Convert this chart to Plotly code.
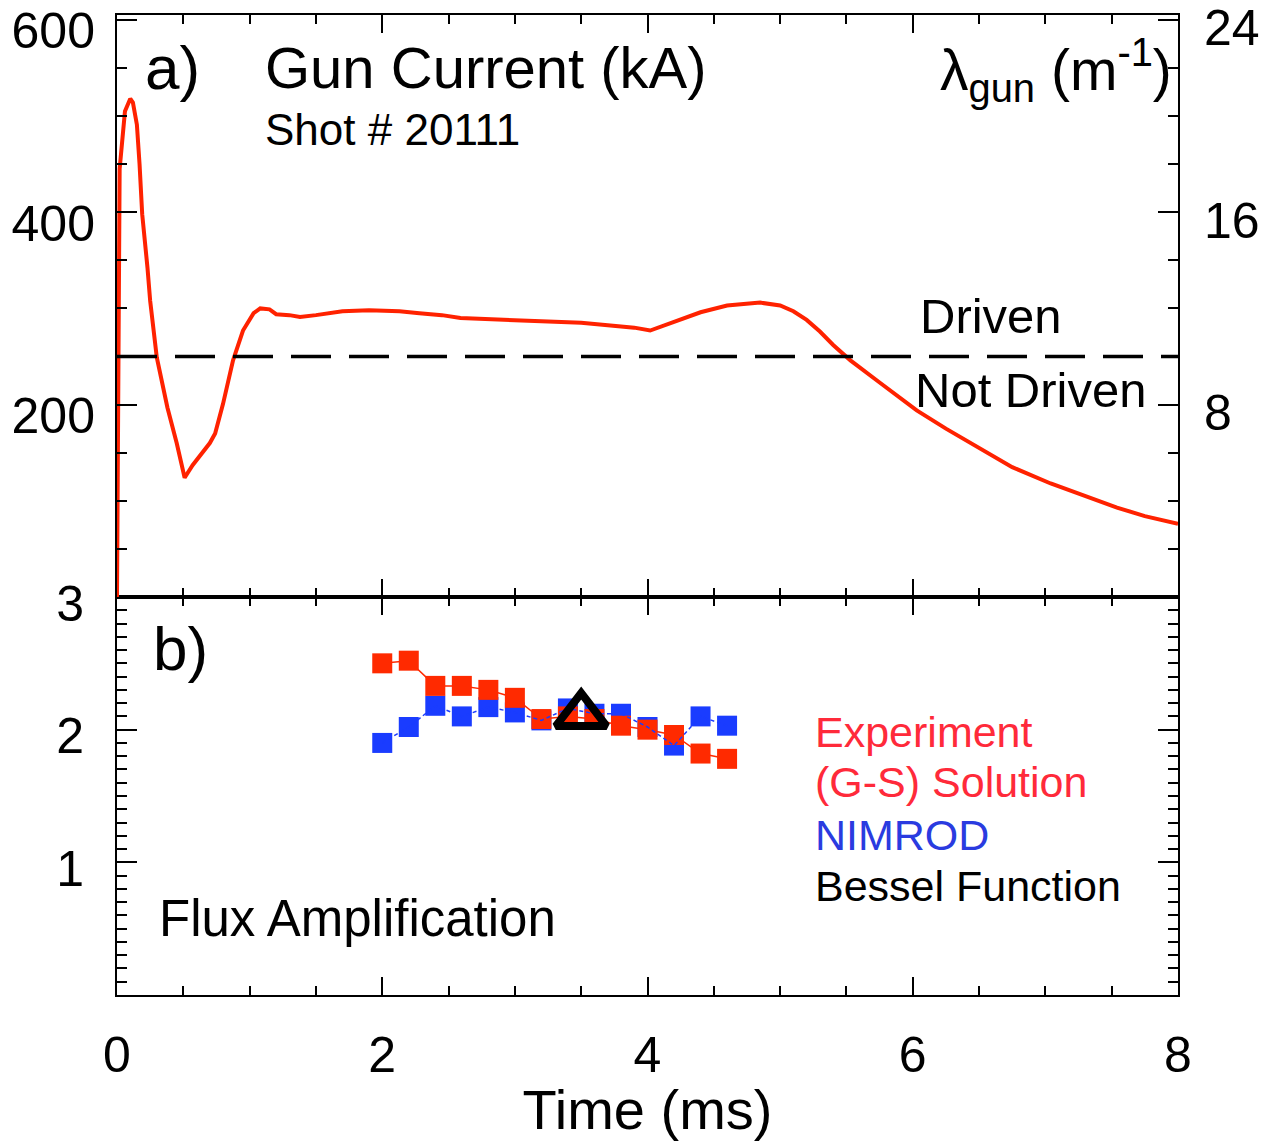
import plotly.graph_objects as go

# ---------------- data ----------------
# Panel a) gun current (kA) vs time (ms)
t_current = [0, 0.005, 0.02, 0.06, 0.10, 0.12, 0.15, 0.17, 0.19, 0.23, 0.25, 0.30, 0.38, 0.45,
             0.51, 0.57, 0.63, 0.70, 0.74, 0.80, 0.875, 0.95, 1.03, 1.08, 1.15, 1.20, 1.30, 1.38,
             1.50, 1.70, 1.90, 2.13, 2.28, 2.45, 2.59, 2.89, 3.10, 3.30, 3.50, 3.70, 3.90, 4.02,
             4.10, 4.25, 4.40, 4.60, 4.85, 5.00, 5.10, 5.20, 5.30, 5.40, 5.53, 5.75, 6.03, 6.25,
             6.53, 6.75, 7.04, 7.30, 7.54, 7.75, 8.00]
i_current = [0, 160, 445, 505, 518, 514, 491, 450, 398, 342, 308, 249, 197, 160,
             124, 137, 147, 160, 170, 201, 246, 277, 295, 300, 299, 294, 293, 291,
             293, 297, 298, 297, 295, 293, 290, 288, 287, 286, 285, 283, 280, 277,
             281, 288, 296, 303, 306, 303, 297, 288, 276, 262, 246, 223, 194, 175,
             152, 135, 118, 105, 93, 84, 76]

# driven / not driven threshold, lambda_gun (m^-1)
t_threshold = [0, 8]
lambda_threshold = [10, 10]

# Panel b) flux amplification
t_flux = [2.0, 2.2, 2.4, 2.6, 2.8, 3.0, 3.2, 3.4, 3.6, 3.8, 4.0, 4.2, 4.4, 4.6]
flux_experiment = [2.50, 2.52, 2.33, 2.33, 2.30, 2.24, 2.08, 2.10, 2.08, 2.03, 2.00, 1.96, 1.82, 1.78]
flux_nimrod = [1.90, 2.02, 2.18, 2.10, 2.17, 2.13, 2.07, 2.16, 2.12, 2.12, 2.02, 1.88, 2.10, 2.03]
t_bessel = [3.5]
flux_bessel = [2.11]

# tick labels
x_ticks = [0, 2, 4, 6, 8]
current_ticks = [200, 400, 600]
lambda_ticks = [8, 16, 24]
flux_ticks = [1, 2, 3]
flux_half_ticks = [0.5, 1.5, 2.5]

# ---------------- styling ----------------
RED = "#ff2200"
SQ_RED = "#ff2a00"
SQ_BLUE = "#1a3cff"
FONT = "Arial, Liberation Sans, sans-serif"

W, H = 1266, 1141
L, R, T, B = 117, 1178, 15, 995
SPLIT = 597
split_frac = (B - SPLIT) / (B - T)


def px(x):
    return (x - L) / (R - L)


def py(y):
    return (B - y) / (B - T)


fig = go.Figure()

fig.add_trace(go.Scatter(x=t_current, y=i_current, xaxis="x2", yaxis="y2", mode="lines",
                         line=dict(color=RED, width=4), showlegend=False))
fig.add_trace(go.Scatter(x=t_threshold, y=lambda_threshold, xaxis="x2", yaxis="y3", mode="lines",
                         line=dict(color="black", width=3.5, dash="40px,18px"), showlegend=False))

fig.add_trace(go.Scatter(x=t_flux, y=flux_nimrod, xaxis="x", yaxis="y", mode="markers",
                         marker=dict(symbol="square", size=20, color=SQ_BLUE), showlegend=False))
fig.add_trace(go.Scatter(x=t_flux, y=flux_experiment, xaxis="x", yaxis="y", mode="lines+markers",
                         line=dict(color=SQ_RED, width=1.5),
                         marker=dict(symbol="square", size=20, color=SQ_RED), showlegend=False))
fig.add_trace(go.Scatter(x=t_flux, y=flux_nimrod, xaxis="x", yaxis="y", mode="lines",
                         line=dict(color=SQ_BLUE, width=1.5, dash="4px,3px"), showlegend=False))
fig.add_trace(go.Scatter(x=t_bessel, y=flux_bessel, xaxis="x", yaxis="y", mode="markers",
                         marker=dict(symbol="triangle-up-open", size=44, color="black",
                                     line=dict(width=8, color="black")), showlegend=False))

tickfont = dict(family=FONT, size=50, color="black")
common_axis = dict(showline=True, linewidth=2, linecolor="black", ticks="inside",
                   tickwidth=2, tickcolor="black", showgrid=False, zeroline=False,
                   tickfont=tickfont, automargin=False, ticklabeloverflow="allow")


def minor(dt, ln=10):
    return dict(dtick=dt, tick0=0, ticklen=ln, ticks="inside", tickwidth=2, tickcolor="black")


fig.update_layout(
    width=W, height=H,
    margin=dict(l=L, r=W - R, t=T, b=H - B, pad=0, autoexpand=False),
    paper_bgcolor="white", plot_bgcolor="white",
    font=dict(family=FONT, color="black"),
    showlegend=False,
    xaxis=dict(domain=[0, 1], range=[0, 8], anchor="y", tickvals=x_ticks,
               ticklen=18, mirror="ticks", ticklabelstandoff=15, minor=minor(0.5, 9),
               title=dict(text="Time (ms)", font=dict(family=FONT, size=56), standoff=0),
               **common_axis),
    xaxis2=dict(domain=[0, 1], range=[0, 8], anchor="y2", matches="x", tickvals=x_ticks,
                showticklabels=False, ticklen=18, mirror="ticks", minor=minor(0.5, 9),
                **common_axis),
    yaxis=dict(domain=[0, split_frac], range=[0, 3], anchor="x",
               tickvals=flux_ticks, ticklen=20, mirror="ticks", ticklabelstandoff=21,
               ticklabelshift=6, minor=minor(0.1, 10), **common_axis),
    yaxis4=dict(overlaying="y", anchor="x", range=[0, 3], tickvals=flux_half_ticks,
                showticklabels=False, ticks="inside", ticklen=20, tickwidth=2, tickcolor="black",
                showline=False, mirror="ticks", showgrid=False, zeroline=False, automargin=False),
    yaxis2=dict(domain=[split_frac, 1], range=[0, 605], anchor="x2",
                tickvals=current_ticks, ticklen=20, mirror=False, ticklabelstandoff=10,
                ticklabelshift=11, minor=minor(50, 10), **common_axis),
    yaxis3=dict(overlaying="y2", side="right", anchor="x2", range=[0, 605 / 25],
                tickvals=lambda_ticks, ticklen=20, ticklabelstandoff=14,
                ticklabelshift=8, minor=minor(2, 10), **common_axis),
)


def ann(text, x, y, size, xanchor="left", color="black"):
    fig.add_annotation(text=text, x=px(x), y=py(y), xref="paper", yref="paper",
                       xanchor=xanchor, yanchor="middle", showarrow=False,
                       font=dict(family=FONT, size=size, color=color))


ann("a)", 143, 68, 62)
ann("Gun Current (kA)", 263, 68, 58)
ann("Shot # 20111", 263, 130, 44)
ann("λ<sub>gun</sub> (m<sup>-1</sup>)", 1174, 70, 57, xanchor="right")
ann("Driven", 918, 316, 49)
ann("Not Driven", 913, 390, 49)
ann("b)", 151, 648, 62)
ann("Flux Amplification", 157, 918, 51)
ann("Experiment", 813, 732, 43, color="#ff2a3a")
ann("(G-S) Solution", 813, 782, 43, color="#ff2a3a")
ann("NIMROD", 813, 835, 43, color="#2a3be0")
ann("Bessel Function", 813, 886, 43)

fig.write_html("out.html")
